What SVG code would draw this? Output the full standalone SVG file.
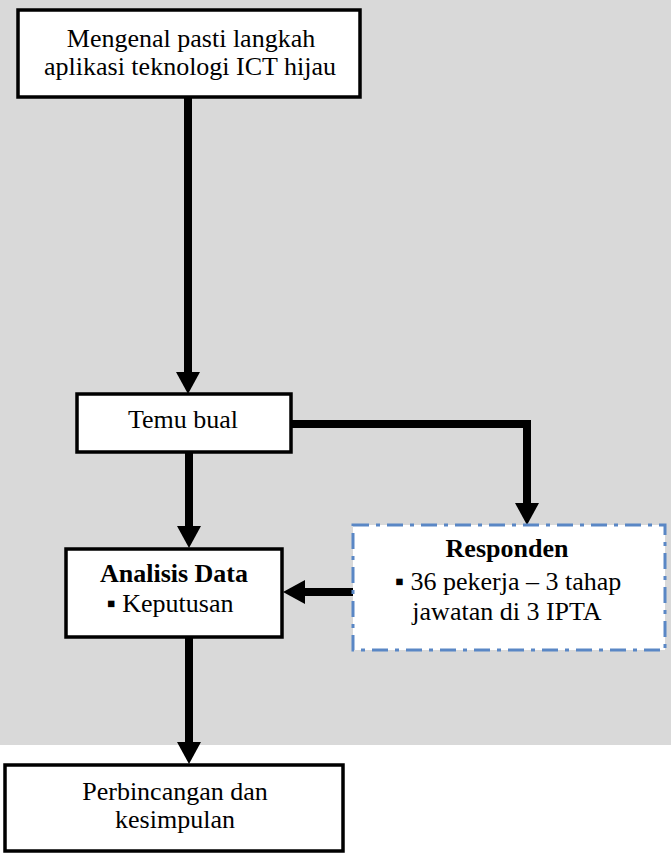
<svg xmlns="http://www.w3.org/2000/svg" width="671" height="856" viewBox="0 0 671 856">
<style>
.box{fill:#fff;stroke:#000;stroke-width:3.5}
.dash{fill:#fff;stroke:#5A87C5;stroke-width:3;stroke-dasharray:16 7 4 7}
.t{font-family:'Liberation Serif','DejaVu Serif',serif;font-size:26px;fill:#000;text-anchor:middle}
.b{font-weight:bold}
.c{fill:none;stroke:#000;stroke-width:8}
</style>
<defs>
<marker id="ah" viewBox="0 -12 22 24" refX="0" refY="0" markerWidth="22" markerHeight="24" markerUnits="userSpaceOnUse" orient="auto">
<path d="M0,-12 L22,0 L0,12 Z" fill="#000"/>
</marker>
</defs>
<rect x="0" y="0" width="671" height="745" fill="#D9D9D9"/>
<g id="connectors">
<path class="c" d="M188,97 V372" marker-end="url(#ah)"/>
<path class="c" d="M291,424 H527 V503" marker-end="url(#ah)"/>
<path class="c" d="M189,452 V526" marker-end="url(#ah)"/>
<path class="c" d="M353,592 H305" marker-end="url(#ah)"/>
<path class="c" d="M189,637 V742" marker-end="url(#ah)"/>
</g>
<g id="n1">
<rect class="box" x="18" y="10" width="342" height="87"/>
<text class="t" x="191" y="47">Mengenal pasti langkah</text>
<text class="t" x="190" y="75">aplikasi teknologi ICT hijau</text>
</g>
<g id="n2">
<rect class="box" x="77" y="394" width="214" height="58"/>
<text class="t" x="183" y="428">Temu bual</text>
</g>
<g id="n3">
<rect class="box" x="66" y="549" width="216" height="88"/>
<text class="t b" x="174" y="582">Analisis Data</text>
<text class="t" x="170" y="612">▪ Keputusan</text>
</g>
<g id="n4">
<rect class="dash" x="353" y="525" width="312" height="125"/>
<text class="t b" x="507" y="557">Responden</text>
<text class="t" x="508" y="590">▪ 36 pekerja – 3 tahap</text>
<text class="t" x="507" y="620">jawatan di 3 IPTA</text>
</g>
<g id="n5">
<rect class="box" x="5" y="765" width="338" height="86"/>
<text class="t" x="175" y="800">Perbincangan dan</text>
<text class="t" x="175" y="828">kesimpulan</text>
</g>
</svg>
